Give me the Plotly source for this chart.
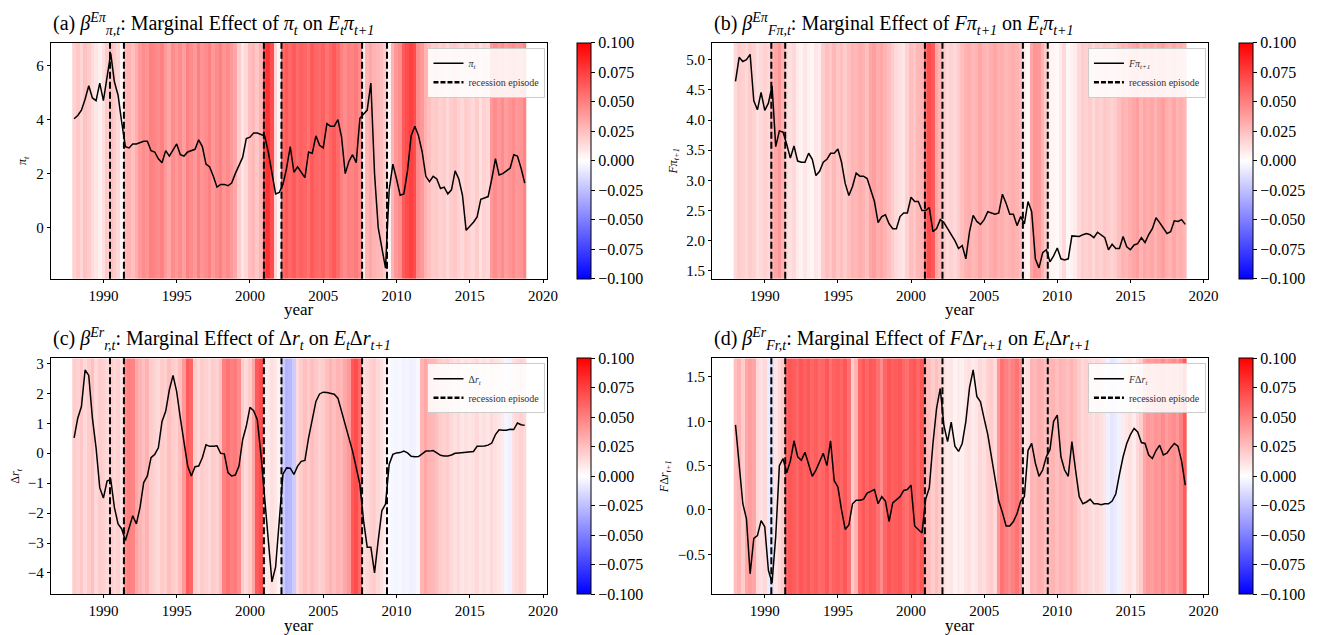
import numpy as np
import plotly.graph_objects as go

# quarterly dates 1988Q1 .. 2018Q4 as decimal years
years = np.arange(1988, 2019, 0.25)

# recession episode boundaries (dashed lines)
recessions = [1990.45, 1991.4, 2000.95, 2002.15, 2007.65, 2009.35]

# ---- line series ----
pi_t = [4.03, 4.15, 4.35, 4.75, 5.25, 4.8, 4.7, 5.35, 4.7, 5.5, 6.45, 5.4,
        4.9, 3.9, 3.0, 2.95, 3.1, 3.1, 3.15, 3.2, 3.2, 2.85, 2.8, 2.55,
        2.4, 2.85, 2.65, 2.9, 3.1, 2.7, 2.65, 2.8, 2.85, 2.9, 3.25, 3.0,
        2.35, 2.25, 1.9, 1.5, 1.6, 1.6, 1.55, 1.65, 2.0, 2.3, 2.6, 3.3,
        3.35, 3.5, 3.5, 3.45, 3.4, 2.8, 2.0, 1.25, 1.3, 1.6, 2.2, 3.0,
        2.05, 2.25, 2.05, 1.85, 2.8, 2.75, 3.4, 3.05, 2.95, 3.85, 3.75, 3.75,
        4.0, 3.35, 2.0, 2.45, 2.7, 2.4, 4.05, 4.2, 4.35, 5.35, 2.0, 0.0,
        -0.8, -1.5, 1.4, 2.35, 1.8, 1.2, 1.25, 2.1, 3.4, 3.75, 3.4, 2.8,
        1.9, 1.7, 1.9, 1.8, 1.45, 1.5, 1.25, 1.4, 2.1, 1.8, 1.2, -0.1,
        0.05, 0.2, 0.4, 1.05, 1.1, 1.15, 1.8, 2.55, 1.95, 2.0, 2.1, 2.2,
        2.7, 2.65, 2.2, 1.65]

f_pi = [4.64, 5.04, 4.97, 5.0, 5.09, 4.32, 4.17, 4.46, 4.16, 4.28, 4.57, 3.56,
        3.82, 3.8, 3.6, 3.37, 3.57, 3.32, 3.3, 3.3, 3.45, 3.35, 3.08, 3.15,
        3.3, 3.35, 3.45, 3.45, 3.52, 3.3, 2.95, 2.75, 2.9, 3.12, 3.07, 3.07,
        3.03, 2.85, 2.65, 2.3, 2.4, 2.43, 2.28, 2.2, 2.2, 2.4, 2.46, 2.46,
        2.72, 2.65, 2.65, 2.5, 2.5, 2.55, 2.15, 2.2, 2.35, 2.3, 2.2, 2.1,
        2.0, 1.87, 1.92, 1.7, 2.15, 2.42, 2.32, 2.27, 2.35, 2.48, 2.46, 2.44,
        2.46, 2.77, 2.62, 2.44, 2.44, 2.25, 2.4, 2.28, 2.65, 2.48, 1.7, 1.55,
        1.8, 1.85, 1.65, 1.75, 1.88, 1.7, 1.68, 1.7, 2.08, 2.07, 2.07, 2.1,
        2.12, 2.1, 2.05, 2.14, 2.1, 2.05, 1.85, 1.94, 1.87, 1.87, 2.07, 1.9,
        1.85, 1.93, 1.95, 2.05, 1.97, 2.1, 2.2, 2.38, 2.3, 2.2, 2.12, 2.15,
        2.33, 2.32, 2.35, 2.27]

d_r = [0.51, 1.17, 1.56, 2.78, 2.6, 1.17, 0.18, -1.15, -1.5, -0.93, -0.87, -1.81,
       -2.36, -2.53, -2.92, -2.47, -2.09, -2.36, -1.81, -0.98, -0.76, -0.15, -0.04, 0.18,
       1.06, 1.4, 2.12, 2.6, 2.06, 1.17, 0.29, -0.43, -0.76, -0.45, -0.43, -0.15,
       0.28, 0.23, 0.23, 0.25, 0.0, -0.02, -0.65, -0.76, -0.73, -0.43, 0.45, 0.9,
       1.53, 1.42, 1.12, -0.04, -1.48, -2.8, -4.3, -3.8, -2.14, -0.7, -0.49, -0.5,
       -0.71, -0.43, -0.27, -0.24, 0.51, 1.12, 1.73, 1.98, 2.04, 2.03, 2.0, 1.97,
       1.84, 1.4, 0.95, 0.51, 0.07, -0.48, -1.04, -2.25, -3.14, -3.14, -4.0, -2.92,
       -1.92, -1.7, -0.37, -0.04, 0.01, 0.02, 0.07, 0.01, -0.1, -0.12, -0.11, -0.02,
       0.07, 0.07, 0.09, 0.01, -0.07, -0.09, -0.09, -0.06, 0.0, 0.01, 0.02, 0.03,
       0.04, 0.06, 0.23, 0.23, 0.24, 0.27, 0.34, 0.62, 0.78, 0.77, 0.77, 0.8,
       0.79, 1.01, 0.95, 0.93]

f_dr = [0.96, 0.48, 0.07, -0.1, -0.72, -0.32, -0.29, -0.12, -0.19, -0.68, -0.82, -0.3,
        0.5, 0.58, 0.42, 0.55, 0.78, 0.6, 0.56, 0.65, 0.52, 0.38, 0.45, 0.55,
        0.64, 0.5, 0.78, 0.33, 0.26, 0.0, -0.22, -0.17, 0.07, 0.11, 0.11, 0.12,
        0.19, 0.21, 0.23, 0.07, 0.15, 0.1, -0.13, 0.08, 0.12, 0.15, 0.22, 0.23,
        0.28, -0.18, -0.22, -0.26, 0.12, 0.25, 0.75, 1.15, 1.37, 0.95, 0.77, 0.99,
        0.72, 0.66, 0.75, 1.0, 1.38, 1.58, 1.28, 1.22, 1.03, 0.85, 0.6, 0.35,
        0.1, -0.03, -0.18, -0.18, -0.13, -0.04, 0.1, 0.15, 0.67, 0.75, 0.53, 0.38,
        0.45, 0.6, 0.68, 1.0, 1.07, 0.6, 0.45, 0.38, 0.77, 0.45, 0.15, 0.07,
        0.09, 0.12, 0.07, 0.07, 0.06, 0.07, 0.07, 0.1, 0.18, 0.4, 0.6, 0.75,
        0.85, 0.92, 0.88, 0.76, 0.75, 0.62, 0.58, 0.67, 0.73, 0.62, 0.64, 0.7,
        0.75, 0.72, 0.55, 0.28]

# ---- marginal effects (background stripes) ----
beta_a = [0.018, 0.022, 0.016, 0.024, 0.02, 0.014, 0.01, 0.006, 0.012, 0.02, 0.025, 0.02,
          0.015, 0.004, 0.028, 0.03, 0.025, 0.032, 0.04, 0.045, 0.042, 0.05, 0.048, 0.045,
          0.05, 0.04, 0.035, 0.045, 0.04, 0.045, 0.038, 0.05, 0.045, 0.04, 0.05, 0.042,
          0.045, 0.05, 0.04, 0.045, 0.05, 0.042, 0.045, 0.04, 0.035, 0.02, 0.01, 0.015,
          0.025, 0.028, 0.022, 0.03, 0.075, 0.08, 0.07, 0.015, 0.005, 0.06, 0.065, 0.06,
          0.065, 0.058, 0.062, 0.06, 0.055, 0.065, 0.06, 0.058, 0.062, 0.055, 0.06, 0.065,
          0.058, 0.05, 0.045, 0.05, 0.048, 0.052, 0.045, 0.008, 0.03, 0.035, 0.03, 0.028,
          0.025, 0.02, 0.005, 0.03, 0.04, 0.045, 0.065, 0.07, 0.075, 0.07, 0.045, 0.04,
          0.03, 0.025, 0.02, 0.022, 0.018, 0.02, 0.015, 0.02, 0.022, 0.018, 0.015, 0.02,
          0.018, 0.015, 0.02, 0.012, 0.018, 0.015, 0.04, 0.045, 0.04, 0.045, 0.038, 0.042,
          0.045, 0.04, 0.042, 0.048]

beta_b = [0.015, 0.02, 0.018, 0.015, 0.02, 0.018, 0.012, 0.015, 0.018, 0.015, 0.03, 0.035,
          0.04, 0.03, 0.015, 0.012, 0.015, 0.008, 0.005, 0.01, 0.006, 0.004, 0.01, 0.008,
          0.02, 0.025, 0.022, 0.028, 0.022, 0.025, 0.02, 0.025, 0.03, 0.028, 0.032, 0.03,
          0.025, 0.035, 0.038, 0.032, 0.035, 0.03, 0.025, 0.02, 0.015, 0.012, 0.01, 0.018,
          0.025, 0.022, 0.028, 0.03, 0.06, 0.07, 0.065, 0.035, 0.03, 0.02, 0.015, 0.018,
          0.015, 0.02, 0.025, 0.03, 0.032, 0.028, 0.03, 0.035, 0.03, 0.028, 0.032, 0.035,
          0.03, 0.032, 0.028, 0.03, 0.032, 0.03, 0.025, 0.008, 0.004, 0.035, 0.042, 0.04,
          0.03, 0.02, 0.006, 0.004, 0.002, 0.008, 0.015, 0.003, 0.005, 0.008, 0.015, 0.02,
          0.018, 0.02, 0.015, 0.02, 0.018, 0.022, 0.02, 0.018, 0.02, 0.025, 0.03, 0.028,
          0.032, 0.035, 0.038, 0.03, 0.035, 0.032, 0.035, 0.03, 0.035, 0.038, 0.032, 0.03,
          0.035, 0.03, 0.032, 0.028]

beta_c = [0.02, 0.018, 0.022, 0.015, 0.02, 0.025, 0.015, 0.02, 0.018, 0.015, 0.02, 0.015,
          0.018, 0.012, 0.045, 0.05, 0.048, 0.035, 0.03, 0.025, 0.03, 0.02, 0.018, 0.015,
          0.02, 0.018, 0.025, 0.02, 0.018, 0.025, 0.04, 0.065, 0.06, 0.02, 0.015, 0.02,
          0.018, 0.015, 0.02, 0.018, 0.025, 0.05, 0.055, 0.05, 0.052, 0.045, 0.02, 0.015,
          0.02, 0.035, 0.065, 0.07, 0.01, 0.008, 0.012, 0.01, 0.005, -0.02, -0.03, -0.028,
          -0.02, 0.015, 0.02, 0.025, 0.02, 0.025, 0.022, 0.018, 0.02, 0.025, 0.03, 0.025,
          0.03, 0.028, 0.035, 0.04, 0.065, 0.07, 0.06, 0.012, 0.015, 0.018, 0.02, 0.015,
          0.012, 0.008, -0.002, -0.003, -0.004, -0.003, -0.005, -0.004, -0.006, -0.005, -0.003, 0.03,
          0.035, 0.03, 0.028, 0.025, 0.02, 0.018, 0.02, 0.015, 0.012, 0.015, 0.01, 0.012,
          0.01, 0.012, 0.015, 0.01, 0.012, 0.01, 0.015, 0.012, 0.01, 0.008, -0.004, -0.006,
          0.012, 0.015, 0.018, 0.015]

beta_d = [0.025, 0.03, 0.02, 0.035, 0.038, 0.035, 0.015, 0.012, 0.015, -0.008, -0.012, 0.01,
          0.015, 0.02, 0.062, 0.066, 0.064, 0.06, 0.066, 0.062, 0.066, 0.06, 0.064, 0.058,
          0.06, 0.066, 0.056, 0.062, 0.064, 0.06, 0.066, 0.056, 0.02, 0.03, 0.06, 0.066,
          0.06, 0.066, 0.064, 0.056, 0.045, 0.06, 0.066, 0.062, 0.064, 0.066, 0.06, 0.056,
          0.064, 0.066, 0.06, 0.066, 0.03, 0.025, 0.02, 0.025, 0.02, 0.012, 0.008, 0.01,
          0.005, 0.008, 0.006, 0.01, 0.012, 0.008, 0.01, 0.015, 0.012, 0.018, 0.02, 0.015,
          0.04, 0.055, 0.05, 0.045, 0.05, 0.055, 0.045, 0.01, 0.012, 0.03, 0.028, 0.032,
          0.03, 0.025, 0.028, 0.03, 0.025, 0.03, 0.028, 0.025, 0.03, 0.025, 0.02, 0.015,
          0.018, 0.015, 0.012, 0.015, 0.012, 0.01, -0.006, -0.01, -0.008, -0.005, 0.008, 0.01,
          0.012, 0.008, 0.015, 0.02, 0.035, 0.04, 0.038, 0.042, 0.04, 0.045, 0.038, 0.042,
          0.045, 0.04, 0.05, 0.065]

SERIF = "Liberation Serif"
bwr = [[0.0, "rgb(0,0,255)"], [0.5, "rgb(255,255,255)"], [1.0, "rgb(255,0,0)"]]
cb_vals = [-0.1, -0.075, -0.05, -0.025, 0.0, 0.025, 0.05, 0.075, 0.1]
cb_text = [("−%.3f" % -v) if v < 0 else ("%.3f" % v) for v in cb_vals]

# page body has an 8px margin, so the figure is a bit smaller and shifted
OFF = 8
W, H = 1330 - OFF, 635 - OFF


def px(x):
    return (x - OFF) / W


def py(y):
    return 1 - (y - OFF) / H


panels = [
    dict(line=pi_t, beta=beta_a, yr=[-1.89, 6.84], box=(51, 552, 40, 277), cbx=582,
         ytick=[0, 2, 4, 6], yfmt="d", ylab="<i>π<sub>t</sub></i>", leg="<i>π<sub>t</sub></i>",
         title="(a) <i>β</i><sup><i>Eπ</i></sup><sub><i>π,t</i></sub>: Marginal Effect of "
               "<i>π<sub>t</sub></i> on <i>E<sub>t</sub>π<sub>t+1</sub></i>"),
    dict(line=f_pi, beta=beta_b, yr=[1.37, 5.28], box=(718, 1218, 40, 277), cbx=1249,
         ytick=[1.5, 2.0, 2.5, 3.0, 3.5, 4.0, 4.5, 5.0], yfmt=".1f",
         ylab="<i>Fπ<sub>t+1</sub></i>", leg="<i>Fπ<sub>t+1</sub></i>",
         title="(b) <i>β</i><sup><i>Eπ</i></sup><sub><i>Fπ,t</i></sub>: Marginal Effect of "
               "<i>Fπ<sub>t+1</sub></i> on <i>E<sub>t</sub>π<sub>t+1</sub></i>"),
    dict(line=d_r, beta=beta_c, yr=[-4.71, 3.17], box=(51, 552, 357, 594), cbx=582,
         ytick=[-4, -3, -2, -1, 0, 1, 2, 3], yfmt="d", ylab="Δ<i>r<sub>t</sub></i>",
         leg="Δ<i>r<sub>t</sub></i>",
         title="(c) <i>β</i><sup><i>Er</i></sup><sub><i>r,t</i></sub>: Marginal Effect of "
               "Δ<i>r<sub>t</sub></i> on <i>E<sub>t</sub></i>Δ<i>r<sub>t+1</sub></i>"),
    dict(line=f_dr, beta=beta_d, yr=[-0.95, 1.71], box=(718, 1218, 357, 594), cbx=1249,
         ytick=[-0.5, 0.0, 0.5, 1.0, 1.5], yfmt=".1f", ylab="<i>F</i>Δ<i>r<sub>t+1</sub></i>",
         leg="<i>F</i>Δ<i>r<sub>t</sub></i>",
         title="(d) <i>β</i><sup><i>Er</i></sup><sub><i>Fr,t</i></sub>: Marginal Effect of "
               "<i>F</i>Δ<i>r<sub>t+1</sub></i> on <i>E<sub>t</sub></i>Δ<i>r<sub>t+1</sub></i>"),
]

edges = np.append(years - 0.125, years[-1] + 0.125)

fig = go.Figure()
layout = {}
for k, p in enumerate(panels):
    n = "" if k == 0 else str(k + 1)
    xa, ya = "x" + n, "y" + n
    legname = "legend" + n
    x0, x1, y0, y1 = p["box"]

    fig.add_trace(go.Heatmap(
        x=edges, y=p["yr"], z=[p["beta"]], xaxis=xa, yaxis=ya,
        colorscale=bwr, zmin=-0.1, zmax=0.1, showlegend=False, hoverinfo="skip",
        colorbar=dict(x=px(p["cbx"]), xanchor="left", xref="paper",
                      y=py(y0), yanchor="top", yref="paper",
                      len=(y1 - y0) / H, lenmode="fraction",
                      thickness=14, thicknessmode="pixels", xpad=0, ypad=0,
                      outlinewidth=1, outlinecolor="black",
                      ticks="outside", ticklen=4, tickcolor="black",
                      tickvals=cb_vals, ticktext=cb_text,
                      tickfont=dict(family=SERIF, size=16, color="black")),
    ))
    fig.add_trace(go.Scatter(
        x=years, y=p["line"], xaxis=xa, yaxis=ya, mode="lines",
        line=dict(color="black", width=1.5), name=p["leg"], legend=legname,
    ))
    fig.add_trace(go.Scatter(
        x=[None], y=[None], xaxis=xa, yaxis=ya, mode="lines",
        line=dict(color="black", width=2.5, dash="5px,2px"),
        name="recession episode", legend=legname,
    ))
    for r in recessions:
        fig.add_shape(type="line", x0=r, x1=r, y0=0, y1=1, xref=xa, yref=ya + " domain",
                      line=dict(color="black", width=2, dash="7px,3px"))

    axis_common = dict(showline=True, linecolor="black", linewidth=1, mirror=True,
                       ticks="outside", ticklen=3, tickcolor="black", showgrid=False,
                       zeroline=False, tickfont=dict(family=SERIF, size=15, color="black"))
    layout["xaxis" + n] = dict(
        domain=[px(x0), px(x1)], anchor=ya, range=[1986.4, 2020.3],
        tickvals=[1990, 1995, 2000, 2005, 2010, 2015, 2020], **axis_common)
    layout["yaxis" + n] = dict(
        domain=[py(y1), py(y0)], anchor=xa, range=p["yr"],
        tickvals=p["ytick"], tickformat=p["yfmt"],
        title=dict(text=p["ylab"], font=dict(family=SERIF, size=12, color="black"), standoff=6),
        **axis_common)
    layout[legname] = dict(
        x=px(x1 - 121), y=py(y0 + 5), xanchor="left", yanchor="top",
        bgcolor="rgba(255,255,255,0.85)", bordercolor="#cccccc", borderwidth=1,
        font=dict(family=SERIF, size=10, color="#333333"), tracegroupgap=0,
        itemwidth=30)
    fig.add_annotation(
        text=p["title"], xref="paper", yref="paper", x=px(x0), y=py(y0 - 19),
        xanchor="left", yanchor="middle", showarrow=False,
        font=dict(family=SERIF, size=20, color="black"))
    fig.add_annotation(
        text="year", xref="paper", yref="paper", x=px((x0 + x1) / 2), y=py(y1 + 31),
        xanchor="center", yanchor="middle", showarrow=False,
        font=dict(family=SERIF, size=17, color="black"))

fig.update_layout(
    width=W, height=H, margin=dict(l=0, r=0, t=0, b=0),
    paper_bgcolor="white", plot_bgcolor="white", **layout)

fig.write_html("out.html")
